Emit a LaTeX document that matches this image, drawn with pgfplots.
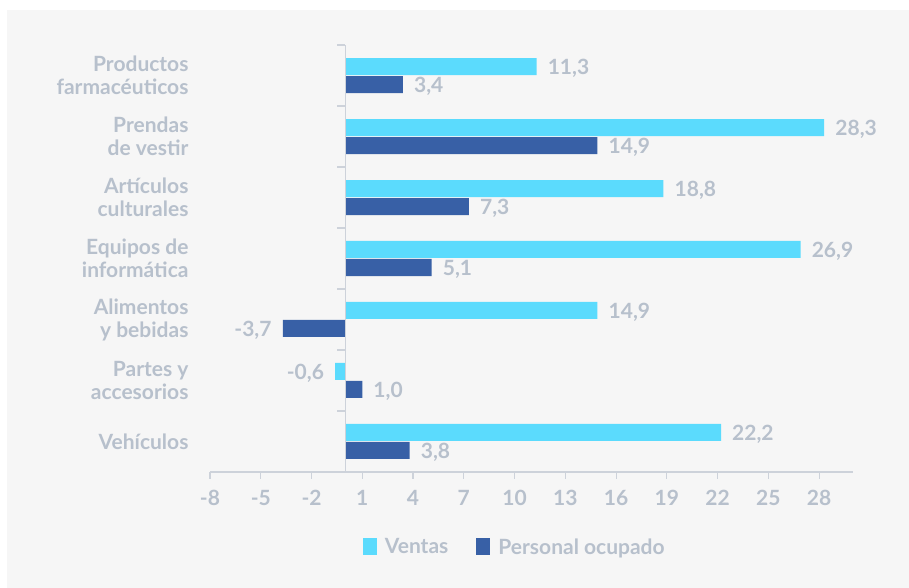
\documentclass[border=0pt]{standalone}
\usepackage{fontspec}
\setmainfont{Lato}[BoldFont={Lato Bold}]
\usepackage{pgfplots}
\pgfplotsset{compat=1.18}
\definecolor{ventas}{RGB}{91,219,253}
\definecolor{personal}{RGB}{56,96,166}
\definecolor{txtgray}{RGB}{183,192,204}
\definecolor{axgray}{RGB}{205,210,218}
\definecolor{bg}{RGB}{246,246,246}

\begin{document}
\begin{tikzpicture}[x=1pt,y=1pt]
\fill[white] (0,0) rectangle (909,588);
\fill[bg] (7,0) rectangle (909,578);
\begin{axis}[
    at={(210pt,116pt)}, anchor=south west,
    scale only axis, width=643pt, height=427pt,
    xbar=1pt, bar width=17pt,
    xmin=-8, xmax=30, ymin=-0.5, ymax=6.5,
    clip=false,
    axis x line*=bottom, axis y line*=left,
    y axis line style={draw=none},
    x axis line style={draw=axgray, line width=1.2pt, -},
    xtick={-8,-5,...,28},
    xtick style={draw=axgray, line width=1.2pt},
    tick align=outside, major tick length=7pt,
    ytick={0,...,6}, ytick style={draw=none},
    yticklabels={Vehículos, {Partes y\\accesorios}, {Alimentos\\y bebidas},
        {Equipos de\\informática}, {Artículos\\culturales}, {Prendas\\de vestir},
        {Productos\\farmacéuticos}},
    yticklabel style={align=right, font=\fontsize{21}{23}\selectfont\bfseries,
        text=txtgray, xshift=-11pt},
    xticklabel style={font=\fontsize{21}{24}\selectfont\bfseries, text=txtgray,
        yshift=-8pt},
    /pgf/number format/assume math mode=true,
    nodes near coords={\pgfmathprintnumber[fixed,fixed zerofill,precision=1,use comma,assume math mode=true]{\pgfplotspointmeta}},
    every node near coord/.append style={font=\fontsize{21}{24}\selectfont\bfseries,
        text=txtgray, inner xsep=11pt, inner ysep=0pt, yshift=-2pt},
    legend style={at={(0.474,-0.176)}, anchor=center, legend columns=2,
        draw=none, fill=none, font=\fontsize{21}{24}\selectfont\bfseries,
        text=txtgray, /tikz/every even column/.append style={column sep=26pt},
        /tikz/every odd column/.append style={column sep=6pt}},
    reverse legend,
    legend image code/.code={\fill[#1] (0pt,-8pt) rectangle (14pt,9pt);},
]
\addplot[fill=personal, draw=none] coordinates {
    (3.8,0) (1.0,1) (-3.7,2) (5.1,3) (7.3,4) (14.9,5) (3.4,6)};
\addlegendentry{Personal ocupado}
\addplot[fill=ventas, draw=none] coordinates {
    (22.2,0) (-0.6,1) (14.9,2) (26.9,3) (18.8,4) (28.3,5) (11.3,6)};
\addlegendentry{Ventas}
% zero line with category ticks
\draw[axgray, line width=1.2pt] (axis cs:0,-0.5) -- (axis cs:0,6.5);
\pgfplotsinvokeforeach{-0.5,0.5,1.5,2.5,3.5,4.5,5.5,6.5}{
    \draw[axgray, line width=1.2pt] (axis cs:0,#1) -- ++(-8pt,0pt);
}
\end{axis}
\pgfresetboundingbox
\path[use as bounding box] (0,0) rectangle (909,588);
\end{tikzpicture}
\end{document}
